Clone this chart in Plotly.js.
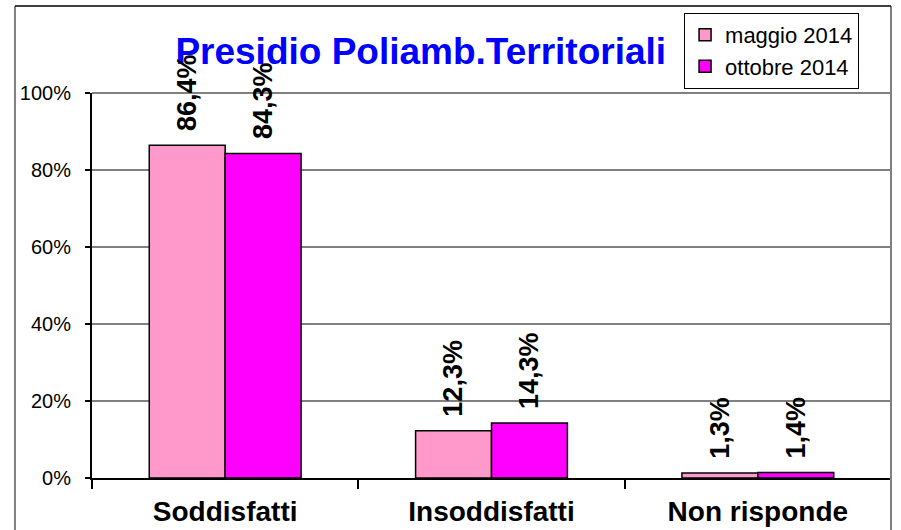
<!DOCTYPE html>
<html>
<head>
<meta charset="utf-8">
<script src="https://cdn.plot.ly/plotly-3.0.1.min.js"></script>
<style>
  body { margin: 0; background: #fff; }
  #chart { width: 901px; height: 530px; }
</style>
</head>
<body>
<div id="chart"></div>
<script>
var categories = ["Soddisfatti", "Insoddisfatti", "Non risponde"];
var maggio = [0.864, 0.123, 0.013];
var ottobre = [0.843, 0.143, 0.014];
var maggioLabels = ["86,4%", "12,3%", "1,3%"];
var ottobreLabels = ["84,3%", "14,3%", "1,4%"];

var font = "Liberation Sans, Arial, sans-serif";

var Maggio = {
  type: 'bar',
  x: categories,
  y: maggio,
  name: 'maggio 2014',
  marker: { color: '#FF99CC', line: { color: '#000', width: 1.5 } },
  hoverinfo: 'none'
};

var Ottobre = {
  type: 'bar',
  x: categories,
  y: ottobre,
  name: 'ottobre 2014',
  marker: { color: '#FF00FF', line: { color: '#000', width: 1.5 } },
  hoverinfo: 'none'
};

// value labels, rotated, above each bar
var annotations = [];
for (var i = 0; i < categories.length; i++) {
  [[maggio, maggioLabels, -38], [ottobre, ottobreLabels, 38]].forEach(function (s) {
    annotations.push({
      x: categories[i], y: s[0][i], xref: 'x', yref: 'y',
      text: s[1][i], showarrow: false, textangle: -90,
      xanchor: 'center', yanchor: 'bottom', xshift: s[2], yshift: 12,
      font: { family: font, size: 27, color: '#000', weight: 'bold' }
    });
  });
}

var layout = {
  width: 901,
  height: 530,
  margin: { l: 92, r: 10, t: 93, b: 52 },
  paper_bgcolor: '#fff',
  plot_bgcolor: '#fff',
  font: { family: font, color: '#000' },
  barmode: 'group',
  bargap: 0.43,
  bargroupgap: 0,
  title: {
    text: '<b>Presidio Poliamb.Territoriali</b>',
    font: { family: font, size: 37, color: '#0000FF' },
    x: 0.467, xanchor: 'center',
    y: 0.904, yanchor: 'middle'
  },
  showlegend: true,
  legend: {
    x: 0.741, xanchor: 'left',
    y: 1.208, yanchor: 'top',
    bgcolor: '#fff', bordercolor: '#000', borderwidth: 1,
    font: { family: font, size: 22, color: '#000' },
    traceorder: 'normal'
  },
  xaxis: {
    type: 'category',
    showgrid: false,
    showline: true, linecolor: '#000', linewidth: 2,
    ticks: 'outside', tickson: 'boundaries', ticklen: 9, tickcolor: '#000', tickwidth: 2,
    ticklabelstandoff: 7,
    tickfont: { family: font, size: 28, color: '#000', weight: 'bold' }
  },
  yaxis: {
    range: [0, 1],
    dtick: 0.2,
    tickformat: '.0%',
    showgrid: true, gridcolor: '#808080', gridwidth: 1.5,
    zeroline: false,
    showline: true, linecolor: '#000', linewidth: 2,
    ticks: 'outside', ticklen: 5, tickcolor: '#000', tickwidth: 1.5,
    ticklabelstandoff: 10,
    tickfont: { family: font, size: 20, color: '#000' }
  },
  shapes: [
    // plot area top and right edge
    { type: 'line', xref: 'paper', yref: 'paper', x0: 0, x1: 1, y0: 1, y1: 1,
      line: { color: '#808080', width: 2 } },
    { type: 'line', xref: 'paper', yref: 'paper', x0: 1, x1: 1, y0: -0.2, y1: 1.226,
      line: { color: '#808080', width: 2 } },
    // outer frame
    { type: 'line', xref: 'paper', yref: 'paper', x0: -0.0964, x1: -0.0964, y0: -0.2, y1: 1.226,
      line: { color: '#808080', width: 2 } },
    { type: 'line', xref: 'paper', yref: 'paper', x0: -0.0964, x1: 1, y0: 1.226, y1: 1.226,
      line: { color: '#000', width: 1.5 } }
  ],
  annotations: annotations
};

Plotly.newPlot('chart', [Maggio, Ottobre], layout, { displayModeBar: false, staticPlot: true });
</script>
</body>
</html>
